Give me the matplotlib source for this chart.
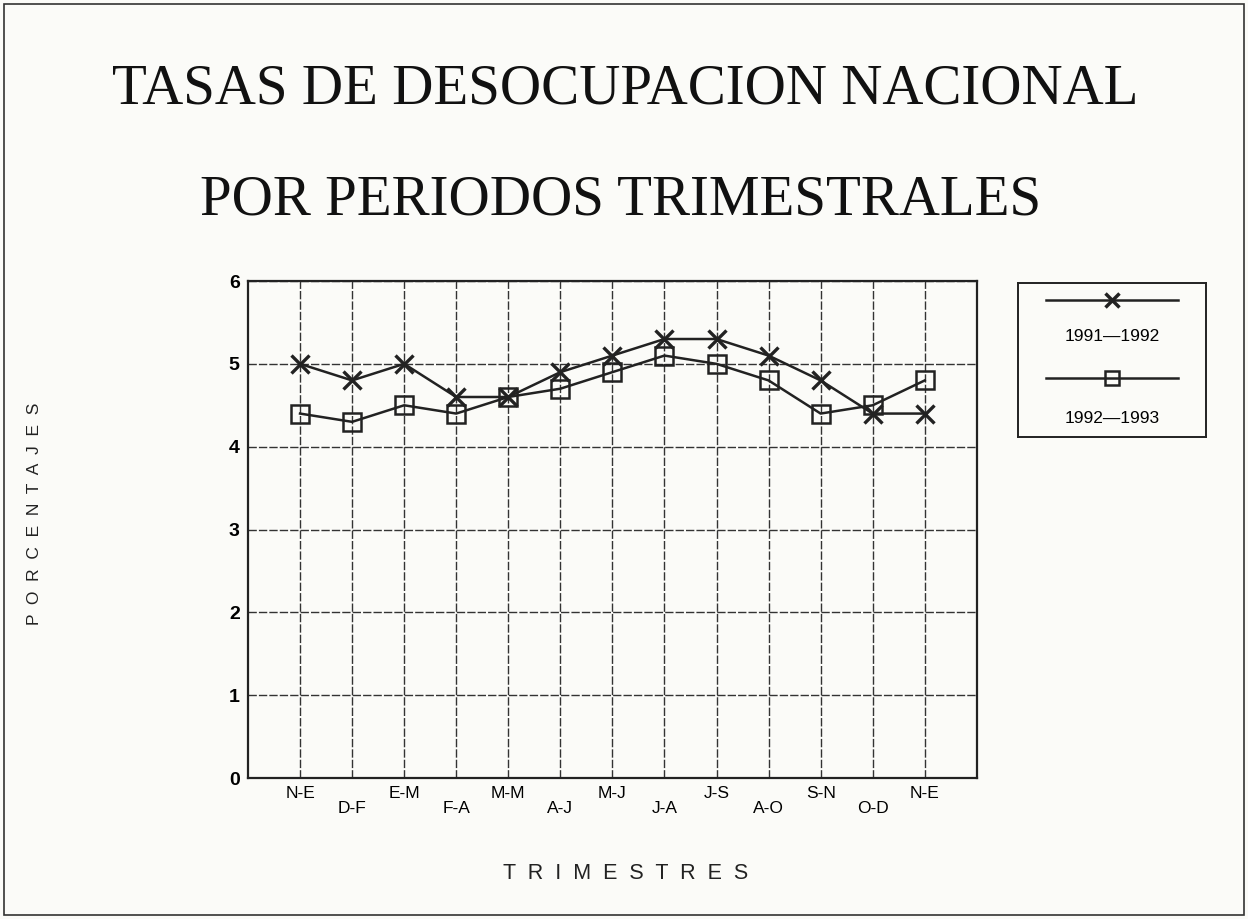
import numpy as np
import matplotlib.pyplot as plt
from matplotlib.patches import Rectangle

# # data
trimestres = ['N-E', 'D-F', 'E-M', 'F-A', 'M-M', 'A-J', 'M-J',
              'J-A', 'J-S', 'A-O', 'S-N', 'O-D', 'N-E']
tasa_91_92 = [5.0, 4.8, 5.0, 4.6, 4.6, 4.9, 5.1, 5.3, 5.3, 5.1, 4.8, 4.4, 4.4]
tasa_92_93 = [4.4, 4.3, 4.5, 4.4, 4.6, 4.7, 4.9, 5.1, 5.0, 4.8, 4.4, 4.5, 4.8]
y_ticks = [0, 1, 2, 3, 4, 5, 6]
series_names = ['1991\u20141992', '1992\u20141993']

serif = ['Liberation Serif', 'DejaVu Serif']
sans = ['Liberation Sans', 'DejaVu Sans']

fig = plt.figure(figsize=(12.48, 9.19), dpi=100)
fig.patch.set_facecolor('#fbfbf8')

# border around the whole page
fig.add_artist(Rectangle((0.003, 0.004), 0.994, 0.992, transform=fig.transFigure,
                         fill=False, ec='#333333', lw=1.2))

fig.text(0.501, 0.903, 'TASAS DE DESOCUPACION NACIONAL', ha='center', va='center',
         fontsize=41, family=serif, color='#111111')
fig.text(0.497, 0.782, 'POR PERIODOS TRIMESTRALES', ha='center', va='center',
         fontsize=41, family=serif, color='#111111')

ax = fig.add_axes([0.1987, 0.1534, 0.584, 0.5408])
ax.set_facecolor('#fbfbf8')
x = np.arange(len(trimestres))

ax.plot(x, tasa_91_92, color='#222222', lw=1.8, marker='x', ms=13, mew=2.4, zorder=3)
ax.plot(x, tasa_92_93, color='#222222', lw=1.8, marker='s', ms=13, mew=1.8,
        fillstyle='none', zorder=3)

ax.set_xlim(-1, len(trimestres))
ax.set_ylim(0, 6)
ax.set_yticks(y_ticks)
ax.set_yticklabels([str(v) for v in y_ticks], fontsize=14, fontweight='bold', family=sans)
ax.set_xticks(x)
ax.set_xticklabels([t if i % 2 == 0 else '\n' + t for i, t in enumerate(trimestres)],
                   fontsize=12.5, family=sans, linespacing=1.0)
ax.tick_params(length=0, pad=6)
ax.grid(True, color='#333333', lw=1.0, ls=(0, (6, 1.5)))
for s in ax.spines.values():
    s.set_color('#222222')
    s.set_linewidth(1.6)

fig.text(0.501, 0.050, 'T  R  I  M  E  S  T  R  E  S', ha='center', va='center',
         fontsize=15.5, family=sans, color='#222222')
fig.text(0.028, 0.441, 'P  O  R  C  E  N  T  A  J  E  S', ha='center', va='center',
         rotation=90, fontsize=12.5, family=sans, color='#222222')

# legend box drawn as its own small axes
lg = fig.add_axes([0.8157, 0.5245, 0.151, 0.168])
lg.set_xlim(0, 1)
lg.set_ylim(0, 1)
lg.set_xticks([])
lg.set_yticks([])
lg.set_facecolor('#fbfbf8')
for s in lg.spines.values():
    s.set_color('#222222')
    s.set_linewidth(1.4)
lg.plot([0.15, 0.85], [0.89, 0.89], color='#222222', lw=1.8)
lg.plot([0.5], [0.89], color='#222222', marker='x', ms=10, mew=2.5)
lg.text(0.5, 0.65, series_names[0], ha='center', va='center', fontsize=12.5, family=sans)
lg.plot([0.15, 0.85], [0.38, 0.38], color='#222222', lw=1.8)
lg.plot([0.5], [0.38], color='#222222', marker='s', ms=10, mew=1.8, fillstyle='none')
lg.text(0.5, 0.12, series_names[1], ha='center', va='center', fontsize=12.5, family=sans)

fig.savefig('out.png', dpi=100, facecolor=fig.get_facecolor())
